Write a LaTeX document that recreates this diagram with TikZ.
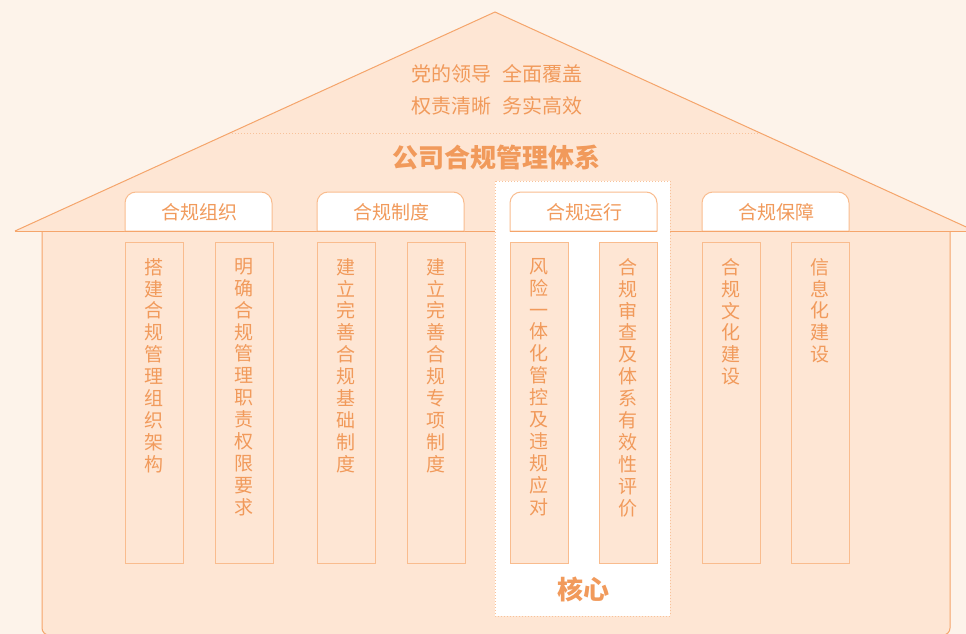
\documentclass[tikz,border=0pt]{standalone}
\usepackage{fontspec}
\setmainfont{Noto Sans CJK SC}
\definecolor{bgc}{HTML}{FDF3EA}
\definecolor{fillc}{HTML}{FEE6D4}
\definecolor{linec}{HTML}{F5A56B}
\definecolor{colline}{HTML}{F9BC8E}
\definecolor{txtc}{HTML}{F19A5B}
\definecolor{dotc}{HTML}{F8C29A}
\tikzset{
  colbox/.style={draw=colline, line width=1pt, fill=fillc},
  vtext/.style={anchor=north, text=txtc, align=center, font=\fontsize{19}{21.9}\selectfont, inner sep=0pt},
  tabtext/.style={text=txtc, font=\fontsize{19}{22}\selectfont, inner sep=0pt},
  tabbox/.style={fill=white, draw=colline, line width=1pt},
}
\begin{document}
\begin{tikzpicture}[x=1pt,y=-1pt]
\useasboundingbox (0,0) rectangle (966,634);
\fill[bgc] (0,0) rectangle (966,634);
% roof
\filldraw[fill=fillc, draw=linec, line width=1pt] (15,231) -- (495,12) -- (975,231);
% body
\filldraw[fill=fillc, draw=linec, line width=1pt, rounded corners=7pt] (42,231) -- (42,635) -- (950,635) -- (950,231);
\draw[linec, line width=1pt] (15,231) -- (966,231);
% dotted separator
\draw[dotc, line width=1pt, dotted] (232,133) -- (760,133);
% texts on roof
\node[text=txtc, font=\fontsize{20}{22}\selectfont] (l1) at (497,74) {党的领导\hspace{0.55em}全面覆盖};
\node[text=txtc, font=\fontsize{20}{22}\selectfont] (l2) at (497,106) {权责清晰\hspace{0.55em}务实高效};
\node[text=txtc, font=\fontsize{26}{28}\selectfont\bfseries] (title) at (496,158) {公司合规管理体系};
% core box
\filldraw[fill=white, draw=dotc, line width=1pt, dotted] (495,181) rectangle (670,616);
\node[text=txtc, font=\fontsize{26}{28}\selectfont\bfseries] (core) at (583,589) {核心};
% tabs
\filldraw[tabbox] (125,231) [rounded corners=11pt] -- (125,192) -- (272,192) [sharp corners] -- (272,231) -- cycle;
\filldraw[tabbox] (317,231) [rounded corners=11pt] -- (317,192) -- (464,192) [sharp corners] -- (464,231) -- cycle;
\filldraw[tabbox] (510,231) [rounded corners=11pt] -- (510,192) -- (657,192) [sharp corners] -- (657,231) -- cycle;
\filldraw[tabbox] (702,231) [rounded corners=11pt] -- (702,192) -- (849,192) [sharp corners] -- (849,231) -- cycle;
\draw[linec, line width=1pt] (125,231) -- (272,231) (317,231) -- (464,231) (510,231) -- (657,231) (702,231) -- (849,231);
\node[tabtext] (t1) at (199,212) {合规组织};
\node[tabtext] (t2) at (391,212) {合规制度};
\node[tabtext] (t3) at (584,212) {合规运行};
\node[tabtext] (t4) at (776,212) {合规保障};
% columns
\foreach \x in {125,215,317,407,510,599,702,791}{
  \draw[colbox] (\x,242) rectangle ++(58,321);
}
\node[vtext] (v1) at (154,258) {搭\\建\\合\\规\\管\\理\\组\\织\\架\\构};
\node[vtext] (v2) at (244,258) {明\\确\\合\\规\\管\\理\\职\\责\\权\\限\\要\\求};
\node[vtext] (v3) at (346,258) {建\\立\\完\\善\\合\\规\\基\\础\\制\\度};
\node[vtext] (v4) at (436,258) {建\\立\\完\\善\\合\\规\\专\\项\\制\\度};
\node[vtext] (v5) at (539,258) {风\\险\\一\\体\\化\\管\\控\\及\\违\\规\\应\\对};
\node[vtext] (v6) at (628,258) {合\\规\\审\\查\\及\\体\\系\\有\\效\\性\\评\\价};
\node[vtext] (v7) at (731,258) {合\\规\\文\\化\\建\\设};
\node[vtext] (v8) at (820,258) {信\\息\\化\\建\\设};
\end{tikzpicture}
\end{document}
